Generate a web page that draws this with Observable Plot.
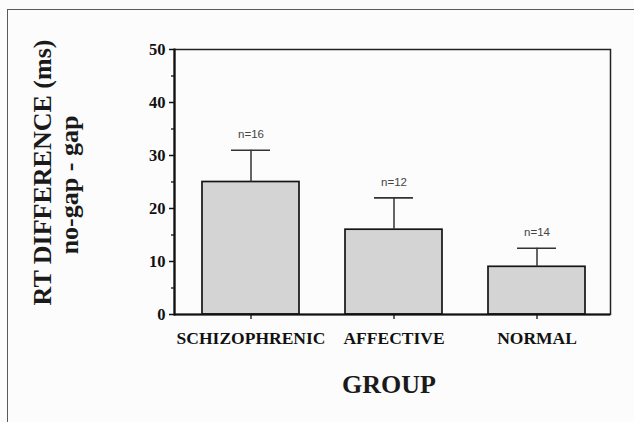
<!DOCTYPE html>
<html>
<head>
<meta charset="utf-8">
<script src="https://cdn.jsdelivr.net/npm/d3@7"></script>
<script src="https://cdn.jsdelivr.net/npm/@observablehq/plot@0.6"></script>
<style>
  html, body { margin: 0; padding: 0; background: #fcfcfc; }
  #wrap { position: relative; width: 634px; height: 422px; overflow: hidden; }
  #border { position: absolute; left: 7px; top: 9px; width: 700px; height: 500px;
            border-top: 1.6px solid #5a5a5a; border-left: 1.6px solid #5a5a5a; }
  #chart { position: absolute; left: 0; top: 0; }
</style>
</head>
<body>
<div id="wrap"><div id="border"></div><div id="chart"></div></div>
<script>
const groups = ["SCHIZOPHRENIC", "AFFECTIVE", "NORMAL"];
const means = [25, 16, 9];
const errors = [6, 6, 3.5];
const counts = [16, 12, 14];
const majorTicks = [0, 10, 20, 30, 40, 50];
const minorTicks = [5, 15, 25, 35, 45];
const yLabel1 = "RT DIFFERENCE (ms)";
const yLabel2 = "no-gap - gap";
const xLabel = "GROUP";

const data = groups.map((g, i) => ({group: g, mean: means[i], top: means[i] + errors[i], n: counts[i]}));
const serif = "'Liberation Serif', 'Times New Roman', serif";

const chart = Plot.plot({
  width: 634,
  height: 422,
  marginLeft: 174,
  marginRight: 24,
  marginTop: 49,
  marginBottom: 108,
  style: {background: "transparent", fontFamily: serif, color: "#111"},
  x: {domain: groups, paddingInner: 0.32, paddingOuter: 0.174, align: 0.54, label: null},
  y: {domain: [0, 50], label: null},
  marks: [
    Plot.barY(data, {x: "group", y: "mean", fill: "#d4d4d4", stroke: "#151515", strokeWidth: 1.7}),
    Plot.ruleX(data, {x: "group", y1: "mean", y2: "top", stroke: "#333", strokeWidth: 1.5}),
    Plot.tickY(data, {x: "group", y: "top", insetLeft: 29, insetRight: 29, stroke: "#333", strokeWidth: 1.6}),
    Plot.text(data, {x: "group", y: "top", text: d => "n=" + d.n, dy: -16, fontSize: 11.5,
      fontFamily: "'Liberation Sans', Arial, sans-serif", fill: "#444", letterSpacing: 1.5}),
    Plot.axisY({ticks: majorTicks, tickSize: 5, tickPadding: 4, fontSize: 16.5, fontWeight: "bold", strokeWidth: 1.5}),
    Plot.axisY({ticks: minorTicks, tickSize: 3, tickFormat: () => "", strokeWidth: 1.3}),
    Plot.axisX({tickSize: 5, tickPadding: 12, fontSize: 17.5, fontWeight: "bold", letterSpacing: 0.8, strokeWidth: 1.3}),
    Plot.frame({stroke: "#222", strokeWidth: 1.5}),
    Plot.frame({anchor: "left", stroke: "#111", strokeWidth: 2.2}),
    Plot.ruleY([0], {stroke: "#111", strokeWidth: 2.2}),
    Plot.text([yLabel1], {frameAnchor: "left", text: d => d, rotate: -90, lineAnchor: "bottom", textAnchor: "middle",
      dx: -124, dy: -9.5, fontSize: 26, fontWeight: "bold", fontFamily: serif, fill: "#1a1a1a", letterSpacing: 0.4}),
    Plot.text([yLabel2], {frameAnchor: "left", text: d => d, rotate: -90, lineAnchor: "bottom", textAnchor: "middle",
      dx: -97, dy: 3, fontSize: 26, fontWeight: "bold", fontFamily: serif, fill: "#1a1a1a", letterSpacing: 0.4}),
    Plot.text([xLabel], {frameAnchor: "bottom", text: d => d, lineAnchor: "bottom",
      dy: 78, dx: -3.5, fontSize: 26, fontWeight: "bold", fontFamily: serif, fill: "#1a1a1a"})
  ]
});
document.getElementById("chart").appendChild(chart);
</script>
</body>
</html>
